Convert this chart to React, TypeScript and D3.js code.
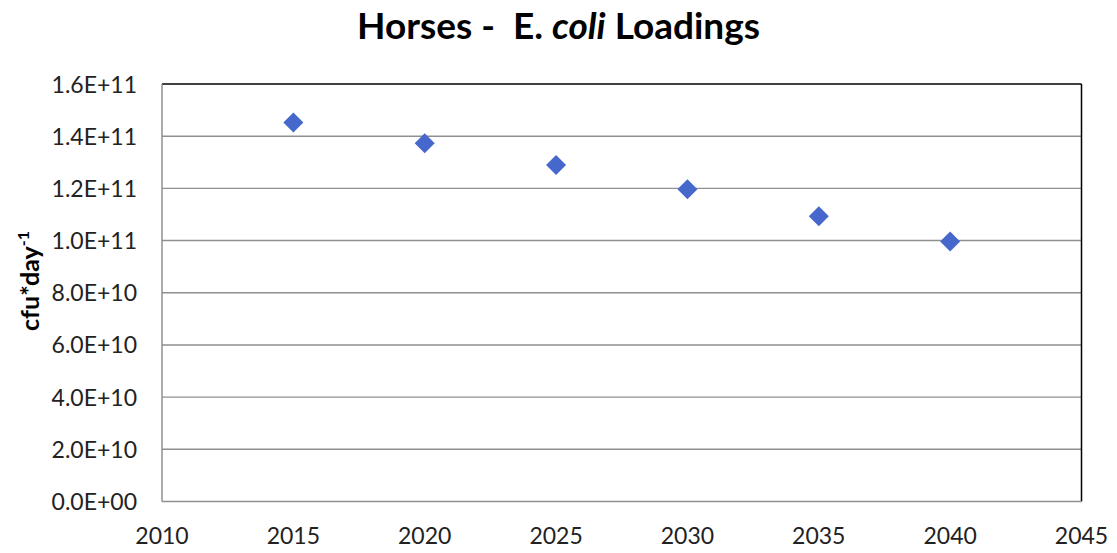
import React from "react";
import * as d3 from "d3";

const years = [2015, 2020, 2025, 2030, 2035, 2040];
const loadings = [1.452e11, 1.373e11, 1.29e11, 1.197e11, 1.093e11, 0.996e11];
const xTicks = [2010, 2015, 2020, 2025, 2030, 2035, 2040, 2045];
const yTicks = [0, 2e10, 4e10, 6e10, 8e10, 1e11, 1.2e11, 1.4e11, 1.6e11];

const W = 1117;
const H = 553;
const FONT = "Lato, 'Open Sans', sans-serif";

function fmt(v: number): string {
  const s = v.toExponential(1).toUpperCase();
  const m = s.match(/^(-?[\d.]+)E([+-])(\d+)$/);
  if (!m) return s;
  return `${m[1]}E${m[2]}${m[3].padStart(2, "0")}`;
}

export default function App() {
  const left = 162;
  const right = 1081.5;
  const top = 84;
  const bottom = 501.5;

  const x = d3.scaleLinear().domain([2010, 2045]).range([left, right]);
  const y = d3.scaleLinear().domain([0, 1.6e11]).range([bottom, top]);
  const diamond = d3.symbol().type(d3.symbolSquare).size(200)();

  return (
    <svg
      width={W}
      height={H}
      style={{ position: "absolute", left: 0, top: 0, background: "#fff" }}
      fontFamily={FONT}
    >
      <rect x={0} y={0} width={W} height={H} fill="#fff" />
      <text
        x={558.5}
        y={38.5}
        textAnchor="middle"
        fontSize={37}
        fontWeight="bold"
        fill="#000"
        style={{ whiteSpace: "pre" }}
        xmlSpace="preserve"
      >
        <tspan>{"Horses -  E. "}</tspan>
        <tspan fontStyle="italic">coli</tspan>
        <tspan>{" Loadings"}</tspan>
      </text>

      {yTicks.map((t) => (
        <g key={t}>
          {t > 0 && t < 1.6e11 && (
            <line x1={left} x2={right} y1={y(t)} y2={y(t)} stroke="#8f8f8f" strokeWidth={1.4} />
          )}
          <text x={137} y={y(t) + 8.5} textAnchor="end" fontSize={23} fill="#222">
            {fmt(t)}
          </text>
        </g>
      ))}

      {xTicks.map((t) => (
        <text key={t} x={x(t)} y={544} textAnchor="middle" fontSize={23} fill="#222">
          {t}
        </text>
      ))}

      <line x1={left} x2={right} y1={top} y2={top} stroke="#000" strokeWidth={1.5} />
      <line x1={right} x2={right} y1={top} y2={bottom} stroke="#000" strokeWidth={1.5} />
      <line x1={left} x2={left} y1={top} y2={bottom} stroke="#8f8f8f" strokeWidth={1.5} />
      <line x1={left} x2={right} y1={bottom} y2={bottom} stroke="#8f8f8f" strokeWidth={1.5} />

      <text
        transform={`translate(39,281) rotate(-90)`}
        textAnchor="middle"
        fontSize={25}
        fontWeight="bold"
        fill="#000"
      >
        <tspan>cfu*day</tspan>
        <tspan fontSize={16} dy={-10}>-1</tspan>
      </text>

      {years.map((yr, i) => (
        <path
          key={yr}
          d={diamond || ""}
          transform={`translate(${x(yr)},${y(loadings[i])}) rotate(45)`}
          fill="#4668CC"
        />
      ))}
    </svg>
  );
}
